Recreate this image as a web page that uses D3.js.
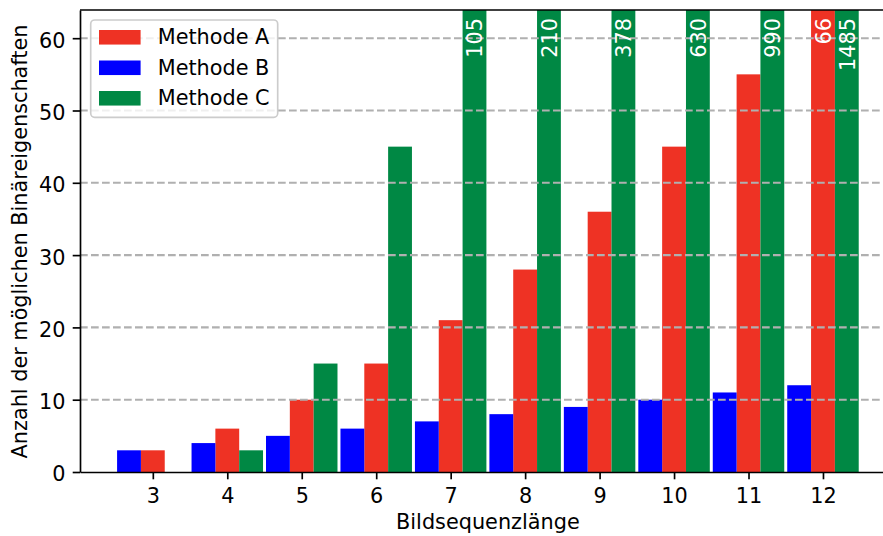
<!DOCTYPE html>
<html>
<head>
<meta charset="utf-8">
<script src="https://cdn.jsdelivr.net/npm/d3@7"></script>
<style>
  html, body { margin: 0; padding: 0; background: #fff; }
  svg { display: block; }
  text { font-family: "DejaVu Sans", sans-serif; }
</style>
</head>
<body>
<svg id="chart" width="883" height="536"></svg>
<script>
// Bildsequenzlänge on the x axis
const categories = [3, 4, 5, 6, 7, 8, 9, 10, 11, 12];
// number of possible binary properties per method
const methodA = [3, 6, 10, 15, 21, 28, 36, 45, 55, 66];
const methodB = [3, 4, 5, 6, 7, 8, 9, 10, 11, 12];
const methodC = [0, 3, 15, 45, 105, 210, 378, 630, 990, 1485];
const yTicks = [0, 10, 20, 30, 40, 50, 60];
const seriesNames = ["Methode A", "Methode B", "Methode C"];
const yLimit = 63.9;

const W = 883, H = 536;
const fs = 20.8;          // 10pt at 150 dpi
const lw = 1.67;          // 0.8pt spine / tick width
const plot = { left: 80, top: 10, right: 895.8, bottom: 472 };
const barW = 0.32;

// series in legend order; slot = position inside a group (-1 left, 0 centre, +1 right)
const series = [
  { name: seriesNames[0], values: methodA, color: "#ee3224", slot: 0 },
  { name: seriesNames[1], values: methodB, color: "#0000ff", slot: -1 },
  { name: seriesNames[2], values: methodC, color: "#008844", slot: 1 }
];

const svg = d3.select("#chart");
svg.append("rect").attr("width", W).attr("height", H).attr("fill", "#fff");

// x: linear, with 5% margin around the bar extents
const lo = d3.min(categories) - 1.5 * barW;
const hi = d3.max(categories) + 1.5 * barW;
const pad = 0.05 * (hi - lo);
const x = d3.scaleLinear().domain([lo - pad, hi + pad]).range([plot.left, plot.right]);
const y = d3.scaleLinear().domain([0, yLimit]).range([plot.bottom, plot.top]);

svg.append("defs").append("clipPath").attr("id", "plotClip")
  .append("rect")
  .attr("x", plot.left).attr("y", plot.top)
  .attr("width", plot.right - plot.left).attr("height", plot.bottom - plot.top);

const barsG = svg.append("g").attr("clip-path", "url(#plotClip)");
const bw = x(barW) - x(0);

series.forEach(s => {
  barsG.selectAll(null)
    .data(categories.map((c, i) => ({ c, v: s.values[i] })))
    .join("rect")
    .attr("x", d => x(d.c + s.slot * barW - barW / 2))
    .attr("y", d => y(d.v))
    .attr("width", bw)
    .attr("height", d => y(0) - y(d.v))
    .attr("fill", s.color);
});

// dashed horizontal grid, drawn above the bars
svg.append("g")
  .selectAll("line")
  .data(yTicks.filter(t => t > 0))
  .join("line")
  .attr("x1", plot.left).attr("x2", plot.right)
  .attr("y1", d => y(d)).attr("y2", d => y(d))
  .attr("stroke", "#b0b0b0")
  .attr("stroke-width", 2.08)
  .attr("stroke-dasharray", "7.7,3.3");

// value labels for bars that run past the top of the axes
const labelsG = svg.append("g");
series.forEach(s => {
  categories.forEach((c, i) => {
    const v = s.values[i];
    if (v <= yLimit) return;
    const cx = x(c + s.slot * barW);
    labelsG.append("text")
      .attr("transform", `translate(${cx + 0.37 * fs},${plot.top + 8}) rotate(-90)`)
      .attr("text-anchor", "end")
      .attr("font-size", fs)
      .attr("fill", "#fff")
      .text(v);
  });
});

// axes
const yAxis = svg.append("g")
  .attr("transform", `translate(${plot.left},0)`)
  .call(d3.axisLeft(y).tickValues(yTicks).tickSize(7.3).tickPadding(7.3).tickSizeOuter(0));
const xAxis = svg.append("g")
  .attr("transform", `translate(0,${plot.bottom})`)
  .call(d3.axisBottom(x).tickValues(categories).tickFormat(d3.format("d"))
    .tickSize(7.3).tickPadding(7.3).tickSizeOuter(0));

[yAxis, xAxis].forEach(g => {
  g.select(".domain").attr("stroke", "#000").attr("stroke-width", lw);
  g.selectAll(".tick line").attr("stroke", "#000").attr("stroke-width", lw);
  g.selectAll(".tick text")
    .attr("fill", "#000")
    .attr("font-size", fs)
    .attr("font-family", "DejaVu Sans, sans-serif");
});
yAxis.selectAll(".tick text").attr("dy", "0.43em");
xAxis.selectAll(".tick text").attr("dy", "0.79em");

// top spine
svg.append("line")
  .attr("x1", plot.left).attr("x2", plot.right)
  .attr("y1", plot.top).attr("y2", plot.top)
  .attr("stroke", "#000").attr("stroke-width", lw);

// axis titles
svg.append("text")
  .attr("x", (plot.left + plot.right) / 2)
  .attr("y", 528.5)
  .attr("text-anchor", "middle")
  .attr("font-size", fs)
  .attr("fill", "#000")
  .text("Bildsequenzlänge");

svg.append("text")
  .attr("transform", `translate(26.7,${(plot.top + plot.bottom) / 2 + 0.5}) rotate(-90)`)
  .attr("text-anchor", "middle")
  .attr("font-size", fs)
  .attr("fill", "#000")
  .text("Anzahl der möglichen Binäreigenschaften");

// legend
const leg = svg.append("g");
leg.append("rect")
  .attr("x", 90.7).attr("y", 20)
  .attr("width", 187).attr("height", 97.3)
  .attr("rx", 4).attr("ry", 4)
  .attr("fill", "#fff").attr("fill-opacity", 0.8)
  .attr("stroke", "#cccccc").attr("stroke-width", lw);

const rowStep = 30.5;
series.forEach((s, i) => {
  leg.append("rect")
    .attr("x", 99).attr("y", 30 + i * rowStep)
    .attr("width", 2 * fs).attr("height", 0.7 * fs)
    .attr("fill", s.color);
  leg.append("text")
    .attr("x", 157.7).attr("y", 44.3 + i * rowStep)
    .attr("font-size", fs)
    .attr("fill", "#000")
    .text(s.name);
});
</script>
</body>
</html>
